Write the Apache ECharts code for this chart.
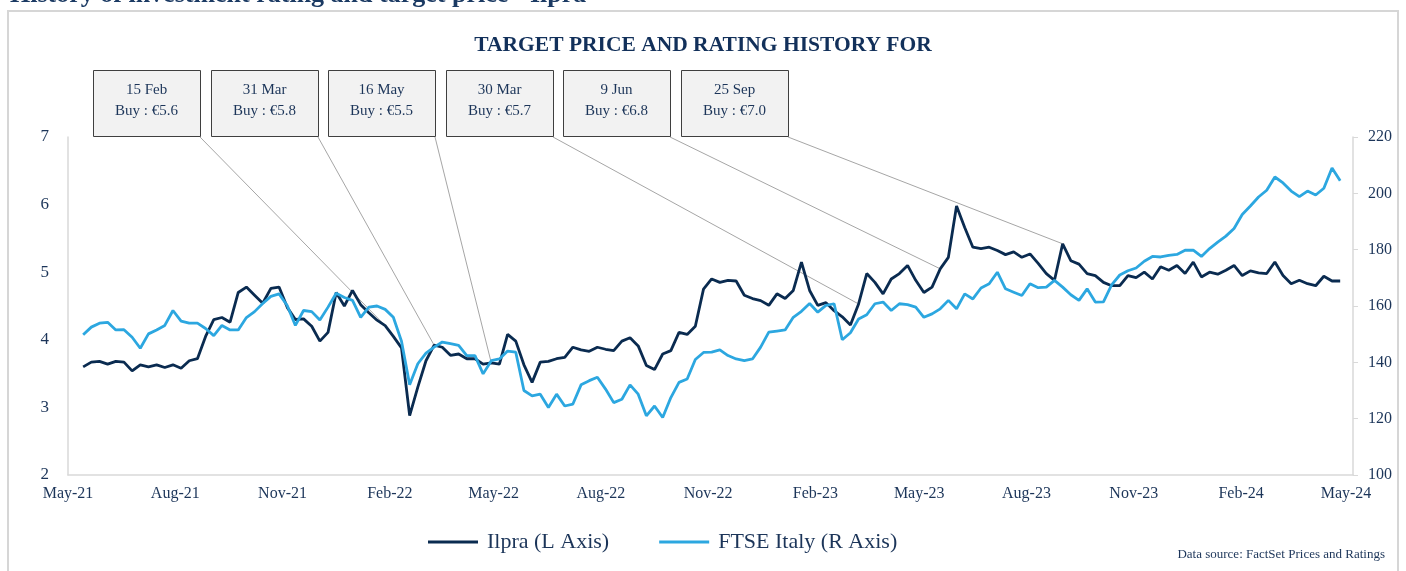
<!DOCTYPE html>
<html><head><meta charset="utf-8">
<script src="https://cdn.jsdelivr.net/npm/echarts@6/dist/echarts.min.js"></script>
<style>html,body{margin:0;padding:0;background:#fff;}#c{width:1406px;height:571px;}</style>
</head><body><div id="c"></div>
<script>
const dates = [
'2021-05-14','2021-05-21','2021-05-28','2021-06-04','2021-06-11','2021-06-18','2021-06-25','2021-07-02','2021-07-09','2021-07-16',
'2021-07-23','2021-07-30','2021-08-06','2021-08-13','2021-08-20','2021-08-27','2021-09-03','2021-09-10','2021-09-17','2021-09-24',
'2021-10-01','2021-10-08','2021-10-15','2021-10-22','2021-10-29','2021-11-05','2021-11-12','2021-11-19','2021-11-26','2021-12-03',
'2021-12-10','2021-12-17','2021-12-24','2021-12-31','2022-01-07','2022-01-14','2022-01-21','2022-01-28','2022-02-04','2022-02-11',
'2022-02-18','2022-02-25','2022-03-04','2022-03-11','2022-03-18','2022-03-25','2022-04-01','2022-04-08','2022-04-15','2022-04-22',
'2022-04-29','2022-05-06','2022-05-13','2022-05-20','2022-05-27','2022-06-03','2022-06-10','2022-06-17','2022-06-24','2022-07-01',
'2022-07-08','2022-07-15','2022-07-22','2022-07-29','2022-08-05','2022-08-12','2022-08-19','2022-08-26','2022-09-02','2022-09-09',
'2022-09-16','2022-09-23','2022-09-30','2022-10-07','2022-10-14','2022-10-21','2022-10-28','2022-11-04','2022-11-11','2022-11-18',
'2022-11-25','2022-12-02','2022-12-09','2022-12-16','2022-12-23','2022-12-30','2023-01-06','2023-01-13','2023-01-20','2023-01-27',
'2023-02-03','2023-02-10','2023-02-17','2023-02-24','2023-03-03','2023-03-10','2023-03-17','2023-03-24','2023-03-31','2023-04-07',
'2023-04-14','2023-04-21','2023-04-28','2023-05-05','2023-05-12','2023-05-19','2023-05-26','2023-06-02','2023-06-09','2023-06-16',
'2023-06-23','2023-06-30','2023-07-07','2023-07-14','2023-07-21','2023-07-28','2023-08-04','2023-08-11','2023-08-18','2023-08-25',
'2023-09-01','2023-09-08','2023-09-15','2023-09-22','2023-09-29','2023-10-06','2023-10-13','2023-10-20','2023-10-27','2023-11-03',
'2023-11-10','2023-11-17','2023-11-24','2023-12-01','2023-12-08','2023-12-15','2023-12-22','2023-12-29','2024-01-05','2024-01-12',
'2024-01-19','2024-01-26','2024-02-02','2024-02-09','2024-02-16','2024-02-23','2024-03-01','2024-03-08','2024-03-15','2024-03-22',
'2024-03-29','2024-04-05','2024-04-12','2024-04-19','2024-04-26'];

const ilpra = [
3.60,3.67,3.68,3.64,3.68,3.67,3.54,3.63,3.60,3.63,
3.59,3.63,3.58,3.69,3.72,4.05,4.30,4.33,4.26,4.70,
4.78,4.66,4.54,4.76,4.78,4.48,4.30,4.31,4.20,3.98,
4.11,4.70,4.50,4.73,4.52,4.40,4.29,4.21,4.05,3.88,
2.88,3.30,3.69,3.92,3.89,3.77,3.79,3.72,3.72,3.64,
3.66,3.64,4.08,3.98,3.63,3.37,3.67,3.68,3.72,3.74,
3.89,3.85,3.83,3.89,3.86,3.84,3.98,4.03,3.91,3.62,
3.56,3.79,3.84,4.11,4.08,4.20,4.75,4.90,4.85,4.88,
4.87,4.66,4.61,4.58,4.51,4.68,4.61,4.73,5.15,4.73,
4.51,4.55,4.43,4.34,4.22,4.53,4.98,4.85,4.68,4.90,
4.98,5.10,4.88,4.70,4.78,5.05,5.22,5.98,5.66,5.37,
5.35,5.37,5.32,5.26,5.30,5.22,5.27,5.13,4.98,4.88,
5.42,5.17,5.12,4.98,4.95,4.85,4.80,4.80,4.95,4.92,
5.00,4.90,5.08,5.03,5.10,4.98,5.15,4.93,5.00,4.97,
5.03,5.10,4.95,5.02,4.99,4.98,5.15,4.95,4.83,4.88,
4.83,4.80,4.94,4.87,4.87];

const ftse = [
149.8,152.5,153.9,154.2,151.5,151.6,148.9,145.0,150.1,151.5,
153.1,158.4,154.6,153.9,153.9,152.0,149.5,153.1,151.5,151.5,
155.9,158.0,160.9,163.4,164.3,160.2,153.1,158.4,158.0,155.0,
159.6,164.5,163.0,162.0,156.0,159.6,160.0,158.8,156.0,147.5,
132.0,139.5,143.3,145.4,147.2,146.6,146.0,142.4,142.4,135.9,
140.6,141.2,144.0,143.6,130.0,128.1,128.7,124.0,128.7,124.5,
125.2,132.0,133.5,134.7,130.5,125.7,126.9,132.0,128.7,121.0,
124.5,120.4,127.5,132.9,134.1,141.0,143.5,143.6,144.4,142.4,
141.2,140.6,141.2,145.4,150.7,151.1,151.5,156.0,158.1,160.9,
157.8,160.2,160.8,148.0,150.5,155.4,156.9,160.8,161.4,158.4,
160.8,160.5,159.6,156.0,157.2,159.0,162.0,159.0,164.3,162.5,
166.4,167.9,172.0,166.1,164.9,163.7,167.9,166.5,166.7,169.1,
166.7,164.0,162.0,166.1,161.4,161.5,167.5,171.0,172.5,173.5,
175.9,177.6,177.4,178.0,178.3,179.8,179.8,177.6,180.4,182.7,
184.8,187.5,192.5,195.5,198.7,201.1,205.8,203.7,200.8,198.8,
200.8,199.4,201.8,209.0,204.5];

const xTickDates = ['2021-05-01','2021-08-01','2021-11-01','2022-02-01','2022-05-01','2022-08-01','2022-11-01',
  '2023-02-01','2023-05-01','2023-08-01','2023-11-01','2024-02-01','2024-05-01'];
const xTickLabels = ['May-21','Aug-21','Nov-21','Feb-22','May-22','Aug-22','Nov-22','Feb-23','May-23','Aug-23','Nov-23','Feb-24','May-24'];

const annDates = ['2022-01-28','2022-03-11','2022-04-29','2023-03-10','2023-05-19','2023-09-01'];
const annTitles = ['15 Feb','31 Mar','16 May','30 Mar','9 Jun','25 Sep'];
const annRatings = ['Buy : €5.6','Buy : €5.8','Buy : €5.5','Buy : €5.7','Buy : €6.8','Buy : €7.0'];

function ts(s){const p=s.split('-').map(Number);return Date.UTC(p[0],p[1]-1,p[2]);}

const NAVY='#0a2b50', SKY='#2ca7e0', TXT='#1c3559', AXIS='#d9d9d9';
const SERIF="'Liberation Serif','DejaVu Serif',serif";

const chart = echarts.init(document.getElementById('c'), null, {renderer:'canvas'});
const option = {
  animation:false,
  backgroundColor:'#ffffff',
  title:{text:'TARGET PRICE AND RATING HISTORY FOR',left:'center',top:29,
    textStyle:{fontFamily:SERIF,fontWeight:'bold',fontSize:21.5,color:'#12305a'}},
  grid:{left:68,right:53,top:137,bottom:96},
  xAxis:{type:'value',min:ts('2021-05-01'),max:ts('2024-05-07'),
    axisLine:{show:true,lineStyle:{color:AXIS,width:1.5}},axisTick:{show:false},splitLine:{show:false},
    axisLabel:{customValues:xTickDates.map(ts),hideOverlap:false,showMinLabel:true,showMaxLabel:true,
      formatter:function(v){const i=xTickDates.findIndex(d=>Math.abs(ts(d)-v)<43200000);return i>=0?xTickLabels[i]:'';},
      color:TXT,fontFamily:SERIF,fontSize:16,margin:11}},
  yAxis:[
    {type:'value',min:2,max:7,interval:1,position:'left',
     axisLine:{show:true,lineStyle:{color:AXIS,width:1.5}},axisTick:{show:false},splitLine:{show:false},
     axisLabel:{color:TXT,fontFamily:SERIF,fontSize:17,margin:19}},
    {type:'value',min:100,max:220,interval:20,position:'right',
     axisLine:{show:true,lineStyle:{color:AXIS,width:1.5}},axisTick:{show:true,length:5,lineStyle:{color:AXIS}},splitLine:{show:false},
     axisLabel:{color:TXT,fontFamily:SERIF,fontSize:16,margin:15}}
  ],
  legend:{left:423,top:526,itemWidth:50,itemHeight:3,itemGap:50,icon:'rect',
    textStyle:{color:TXT,fontFamily:SERIF,fontSize:22,padding:[0,0,0,4]},
    data:['Ilpra (L Axis)','FTSE Italy (R Axis)']},
  series:[
    {name:'Ilpra (L Axis)',type:'line',yAxisIndex:0,showSymbol:false,symbol:'none',
     data:dates.map((d,i)=>[ts(d),ilpra[i]]),lineStyle:{color:NAVY,width:2.8},itemStyle:{color:NAVY},z:3},
    {name:'FTSE Italy (R Axis)',type:'line',yAxisIndex:1,showSymbol:false,symbol:'none',
     data:dates.map((d,i)=>[ts(d),ftse[i]]),lineStyle:{color:SKY,width:2.8},itemStyle:{color:SKY},z:4}
  ]
};
chart.setOption(option);

const g = [];
g.push({type:'rect',shape:{x:8,y:11,width:1390,height:640},style:{fill:'none',stroke:'#d6d6d6',lineWidth:2},silent:true,z:-10});
g.push({type:'text',x:10,y:8,style:{text:'History of investment rating and target price - Ilpra',fontFamily:SERIF,fontWeight:'bold',fontSize:26,fill:'#1b3a63',verticalAlign:'bottom',align:'left'},z:5});
g.push({type:'text',x:1385,y:555,style:{text:'Data source: FactSet Prices and Ratings',fontFamily:SERIF,fontSize:13,fill:TXT,verticalAlign:'middle',align:'right'}});

const boxW=107, boxH=66, boxTop=70;
annDates.forEach((d,i)=>{
  const left = Math.round(93 + i*117.6);
  const idx = dates.indexOf(d);
  const p = chart.convertToPixel({xAxisIndex:0,yAxisIndex:0},[ts(d),ilpra[idx]]);
  g.push({type:'line',shape:{x1:left+boxW,y1:boxTop+boxH+1,x2:p[0],y2:p[1]},style:{stroke:'#a6a6a6',lineWidth:1},z:1,silent:true});
  g.push({type:'rect',shape:{x:left+0.5,y:boxTop+0.5,width:boxW,height:boxH},style:{fill:'#f2f2f2',stroke:'#3f3f3f',lineWidth:1},z:6});
  g.push({type:'text',x:left+boxW/2,y:boxTop+20,style:{text:annTitles[i],fontFamily:SERIF,fontSize:15,fill:TXT,align:'center',verticalAlign:'middle'},z:7});
  g.push({type:'text',x:left+boxW/2,y:boxTop+41,style:{text:annRatings[i],fontFamily:SERIF,fontSize:15,fill:TXT,align:'center',verticalAlign:'middle'},z:7});
});
chart.setOption({graphic:g});
</script>
</body></html>
